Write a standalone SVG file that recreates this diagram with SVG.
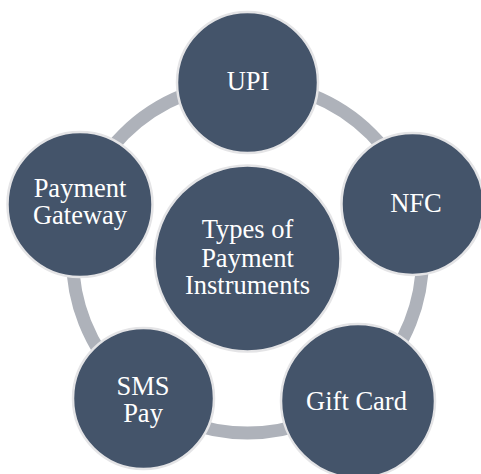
<svg xmlns="http://www.w3.org/2000/svg" width="481" height="474" viewBox="0 0 481 474">
  <style>
    .node { fill: #44546A; stroke: #E4E4E6; stroke-width: 2.5; }
    .label { fill: #FFFFFF; font-family: "Liberation Serif", "Times New Roman", serif; font-size: 26.5px; text-anchor: middle; }
    .ring { fill: none; stroke: #AEB2BA; stroke-width: 13; }
  </style>
  <rect width="481" height="474" fill="#FFFFFF"/>

  <!-- cycle ring linking the outer items -->
  <g id="connectors">
    <circle class="ring" cx="247.5" cy="258" r="175"/>
  </g>

  <g id="node-upi">
    <circle class="node" cx="247.5" cy="82.5" r="70.5"/>
    <text class="label" x="248" y="90">UPI</text>
  </g>

  <g id="node-nfc">
    <circle class="node" cx="412.5" cy="204" r="71"/>
    <text class="label" x="416" y="212">NFC</text>
  </g>

  <g id="node-gift-card">
    <circle class="node" cx="358" cy="401" r="77"/>
    <text class="label" x="356.5" y="410">Gift Card</text>
  </g>

  <g id="node-sms-pay">
    <circle class="node" cx="143.5" cy="398.5" r="70.5"/>
    <text class="label" x="143" y="395">SMS</text>
    <text class="label" x="143" y="422">Pay</text>
  </g>

  <g id="node-payment-gateway">
    <circle class="node" cx="80" cy="204.5" r="72.5"/>
    <text class="label" x="80" y="197">Payment</text>
    <text class="label" x="80" y="224">Gateway</text>
  </g>

  <g id="node-center">
    <circle class="node" cx="247.5" cy="258.5" r="93"/>
    <text class="label" x="247.5" y="238">Types of</text>
    <text class="label" x="247.5" y="266.5">Payment</text>
    <text class="label" x="247.5" y="294">Instruments</text>
  </g>
</svg>
